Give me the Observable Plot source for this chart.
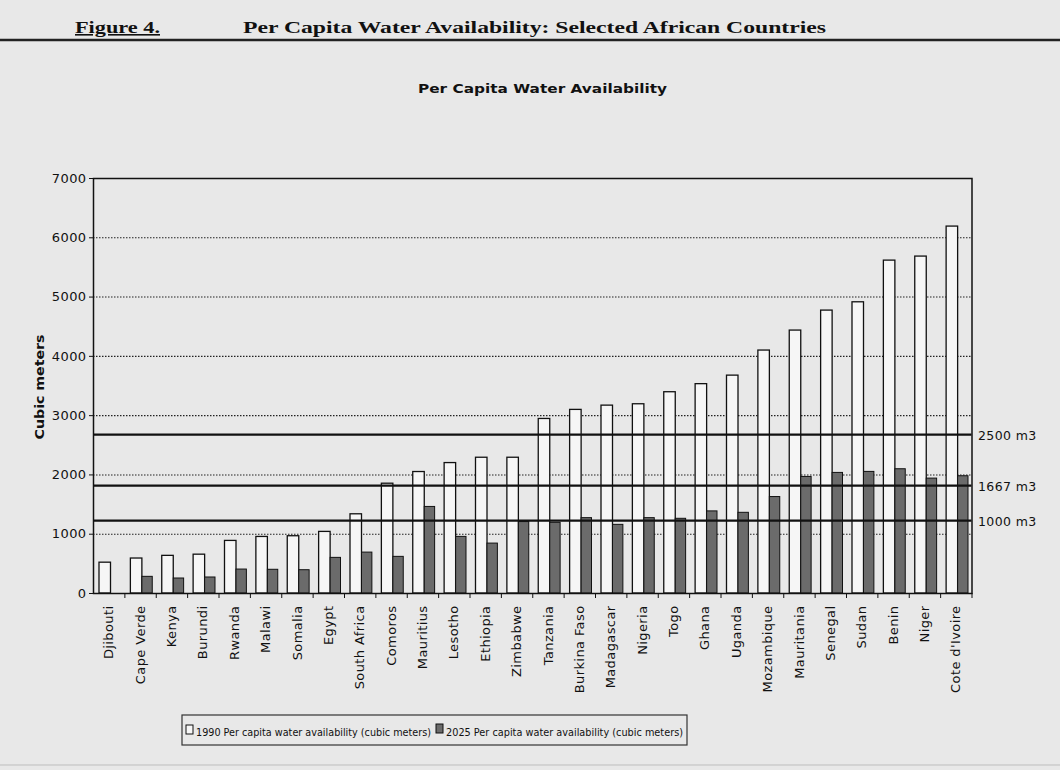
<!DOCTYPE html>
<html><head><meta charset="utf-8">
<script src="https://cdn.jsdelivr.net/npm/d3@7"></script>
<script src="https://cdn.jsdelivr.net/npm/@observablehq/plot@0.6"></script>
<style>
body{margin:0;background:#e8e8e8;}
#wrap{position:relative;width:1060px;height:770px;overflow:hidden;background:#e8e8e8;}
#wrap svg{position:absolute;left:0;}
</style></head>
<body><div id="wrap"></div>
<script>
const countries = ["Djibouti","Cape Verde","Kenya","Burundi","Rwanda","Malawi","Somalia","Egypt","South Africa","Comoros","Mauritius","Lesotho","Ethiopia","Zimbabwe","Tanzania","Burkina Faso","Madagascar","Nigeria","Togo","Ghana","Uganda","Mozambique","Mauritania","Senegal","Sudan","Benin","Niger","Cote d'Ivoire"];
const avail1990 = [520,590,635,655,887,954,966,1039,1336,1852,2049,2200,2290,2290,2944,3097,3169,3192,3395,3531,3675,4098,4435,4772,4912,5615,5683,6189];
const avail2025 = [null,281,253,270,404,400,393,601,690,618,1460,955,842,1205,1192,1271,1158,1271,1260,1385,1361,1627,1966,2034,2051,2096,1938,1978];
const yTicks = [0,1000,2000,3000,4000,5000,6000,7000];
const thresholdLines = [2680,1820,1230];
const thresholdLabels = ["2500 m3","1667 m3","1000 m3"];
const seriesNames = ["1990 Per capita water availability (cubic meters)","2025 Per capita water availability (cubic meters)"];
const figureLabel = "Figure 4.";
const figureTitle = "Per Capita Water Availability: Selected African Countries";
const chartTitle = "Per Capita Water Availability";
const yLabel = "Cubic meters";

const rows1990 = countries.map((c,i)=>({country:c,value:avail1990[i]}));
const rows2025 = countries.map((c,i)=>({country:c,value:avail2025[i]})).filter(d=>d.value!=null);
const thr = thresholdLines.map((v,i)=>({value:v,label:thresholdLabels[i]}));

const W = 1060, H = 560, mL = 93, mR = 88.5;
const band = (W - mL - mR) / countries.length;
const sans = "'DejaVu Sans', sans-serif";

const chart = Plot.plot({
  width: W, height: H,
  marginTop: 28, marginBottom: 117, marginLeft: mL, marginRight: mR,
  style: {background: "transparent", fontFamily: sans, color: "#111", overflow: "visible"},
  x: {domain: countries, padding: 0, round: false, label: null},
  y: {domain: [0, 7000], label: null},
  marks: [
    Plot.ruleY(yTicks.filter(v => v > 0 && v < 7000), {stroke: "#222", strokeDasharray: "1.5,1.5", strokeWidth: 1.1}),
    Plot.barY(rows1990, {x: "country", y: "value", fill: "#f6f6f6", stroke: "#111", strokeWidth: 1.3, insetLeft: 6, insetRight: band - 17.5}),
    Plot.barY(rows2025, {x: "country", y: "value", fill: "#6b6b6b", stroke: "#111", strokeWidth: 1, insetLeft: 17.5, insetRight: 3.5}),
    Plot.ruleY(thr, {y: "value", stroke: "#111", strokeWidth: 2.2}),
    Plot.text(thr, {y: "value", text: "label", frameAnchor: "right", textAnchor: "start", dx: 6, dy: 1, fontSize: 12.5, fill: "#111"}),
    Plot.frame({stroke: "#111", strokeWidth: 1.5}),
    Plot.axisY({ticks: yTicks, tickFormat: d => String(d), tickSize: 4, tickPadding: 3, fontSize: 13, label: null}),
    Plot.axisX({tickSize: 0, tickPadding: 12, tickRotate: -90, fontSize: 13, label: null}),
    Plot.axisX({tickSize: 5, tickFormat: () => "", dx: band / 2, label: null, stroke: "#111"})
  ]
});
chart.style.top = "150px";
d3.select(chart).selectAll("text").style("letter-spacing", "0.4px");
document.getElementById("wrap").appendChild(chart);

// Overlay: header, title, y label, legend
const ov = d3.select("#wrap").append("svg")
  .attr("width", W).attr("height", 770).style("top", "0px").style("pointer-events", "none");
ov.append("line").attr("x1", 0).attr("x2", W).attr("y1", 40).attr("y2", 40).attr("stroke", "#222").attr("stroke-width", 2.5);
ov.append("text").text(figureLabel).attr("x", 75).attr("y", 33)
  .attr("font-family", "'Liberation Serif', serif").attr("font-weight", "bold").attr("font-size", 16)
  .attr("textLength", 85).attr("lengthAdjust", "spacingAndGlyphs").attr("fill", "#111").attr("text-decoration", "underline");
ov.append("text").text(figureTitle).attr("x", 243).attr("y", 33)
  .attr("font-family", "'Liberation Serif', serif").attr("font-weight", "bold").attr("font-size", 16)
  .attr("textLength", 583).attr("lengthAdjust", "spacingAndGlyphs").attr("fill", "#111");
ov.append("text").text(chartTitle).attr("x", 418).attr("y", 93)
  .attr("font-family", sans).attr("font-weight", "bold").attr("font-size", 13)
  .attr("textLength", 249).attr("lengthAdjust", "spacingAndGlyphs").attr("fill", "#111");
ov.append("text").text(yLabel).attr("transform", "translate(44,387) rotate(-90)")
  .attr("text-anchor", "middle").attr("font-family", sans).attr("font-weight", "bold").attr("font-size", 12.5)
  .attr("textLength", 105).attr("lengthAdjust", "spacingAndGlyphs").attr("fill", "#111");

// legend
ov.append("rect").attr("x", 182).attr("y", 715).attr("width", 505).attr("height", 30)
  .attr("fill", "none").attr("stroke", "#333").attr("stroke-width", 1.2);
ov.append("rect").attr("x", 186).attr("y", 725).attr("width", 7).attr("height", 9)
  .attr("fill", "#f6f6f6").attr("stroke", "#111").attr("stroke-width", 1);
ov.append("text").text(seriesNames[0]).attr("x", 196).attr("y", 736)
  .attr("font-family", sans).attr("font-size", 11).attr("textLength", 235).attr("lengthAdjust", "spacingAndGlyphs").attr("fill", "#111");
ov.append("rect").attr("x", 436).attr("y", 724).attr("width", 7).attr("height", 9)
  .attr("fill", "#6b6b6b").attr("stroke", "#111").attr("stroke-width", 1);
ov.append("text").text(seriesNames[1]).attr("x", 446).attr("y", 736)
  .attr("font-family", sans).attr("font-size", 11).attr("textLength", 237).attr("lengthAdjust", "spacingAndGlyphs").attr("fill", "#111");
ov.append("line").attr("x1", 0).attr("x2", W).attr("y1", 765).attr("y2", 765).attr("stroke", "#bdbdbd").attr("stroke-width", 1);
</script>
</body></html>
